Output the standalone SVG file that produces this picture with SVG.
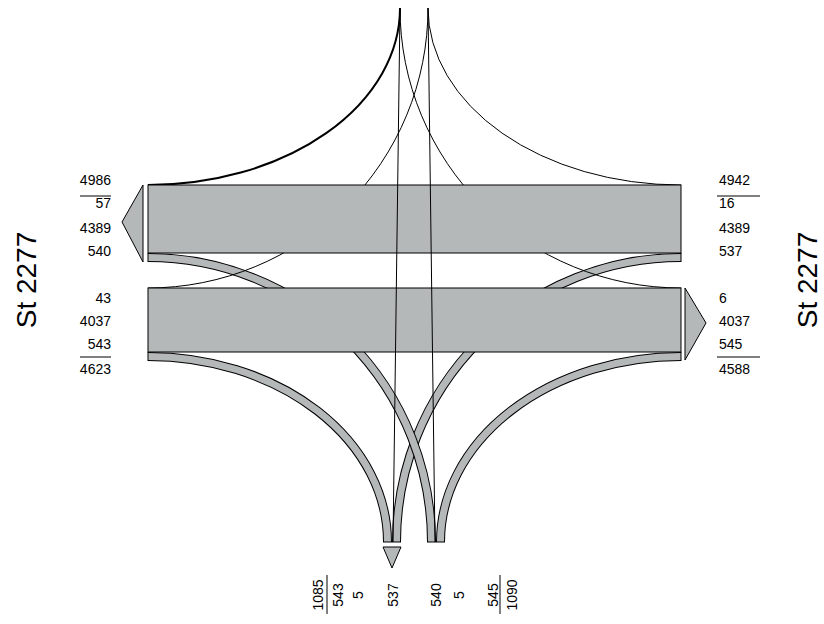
<svg xmlns="http://www.w3.org/2000/svg" width="824" height="624" viewBox="0 0 824 624">
<style>
.bg{fill:#ffffff}
.band{fill:#b4b8b8;stroke:#000;stroke-width:1}
.arrow{fill:#b4b8b8;stroke:#000;stroke-width:1}
.flowo{fill:none;stroke:#000;stroke-width:9}
.flowi{fill:none;stroke:#b4b8b8;stroke-width:7}
.thin{fill:none;stroke:#000;stroke-width:1}
.thick{fill:none;stroke:#000;stroke-width:2}
.edge{stroke:#000;stroke-width:1;fill:none}
.num{font-family:"Liberation Sans",Arial,sans-serif;font-size:14px;fill:#000}
.r{text-anchor:end}
.m{text-anchor:middle}
.big{font-family:"Liberation Sans",Arial,sans-serif;font-size:28px;fill:#000;text-anchor:middle}
</style>
<rect class="bg" x="0" y="0" width="824" height="624"/>
<g id="connectors">
  <g id="turns">
    <path class="flowo" d="M148,356.5 A239.5,185.5 0 0 1 387.5,542"/>
    <path class="flowi" d="M148,356.5 A239.5,185.5 0 0 1 387.5,542"/>
    <path class="flowo" d="M681,356.5 A240.5,185.5 0 0 0 440.5,542"/>
    <path class="flowi" d="M681,356.5 A240.5,185.5 0 0 0 440.5,542"/>
    <path class="flowo" d="M681,257.5 A284.5,284.5 0 0 0 396.5,542"/>
    <path class="flowi" d="M681,257.5 A284.5,284.5 0 0 0 396.5,542"/>
    <path class="flowo" d="M148,257.5 A283.5,284.5 0 0 1 431.5,542"/>
    <path class="flowi" d="M148,257.5 A283.5,284.5 0 0 1 431.5,542"/>
    <path class="edge" d="M148,253V262 M681,253V262 M148,352V361 M681,352V361 M383,542H401 M427,542H445"/>
  </g>
  <g id="thin-flows">
    <path class="thick" d="M400,8 A252,177 0 0 1 148,185"/>
    <path class="thin" d="M400,8 A281,280 0 0 0 681,288"/>
    <path class="thin" d="M428,8 A280,280 0 0 1 148,288"/>
    <path class="thin" d="M428,8 A253,177 0 0 0 681,185"/>
  </g>
</g>
<g id="band-upper">
  <rect class="band" x="148" y="185" width="533" height="68"/>
  <polygon class="arrow" points="143,185 143,262 122,222"/>
</g>
<g id="band-lower">
  <rect class="band" x="148" y="288" width="533" height="64"/>
  <polygon class="arrow" points="685,288 685,360 706,323"/>
</g>
<g id="straight-flows">
  <path class="thin" d="M400,8 L393,542"/>
  <path class="thin" d="M428,8 L435,542"/>
</g>
<g id="arm-south">
  <polygon class="arrow" points="383,547 401,547 392,568"/>
  <path class="edge" d="M327,575V614 M500,575V614"/>
  <text class="num m" transform="translate(323,595) rotate(-90)">1085</text>
  <text class="num m" transform="translate(343,595) rotate(-90)">543</text>
  <text class="num m" transform="translate(363,595) rotate(-90)">5</text>
  <text class="num m" transform="translate(398,595) rotate(-90)">537</text>
  <text class="num m" transform="translate(441,595) rotate(-90)">540</text>
  <text class="num m" transform="translate(464,595) rotate(-90)">5</text>
  <text class="num m" transform="translate(498,595) rotate(-90)">545</text>
  <text class="num m" transform="translate(517,595) rotate(-90)">1090</text>
</g>
<g id="arm-west">
  <text class="big" transform="translate(36,280) rotate(-90)">St 2277</text>
  <text class="num r" x="111" y="185">4986</text>
  <path class="edge" d="M80,196H111"/>
  <text class="num r" x="111" y="208">57</text>
  <text class="num r" x="111" y="233">4389</text>
  <text class="num r" x="111" y="256">540</text>
  <text class="num r" x="111" y="303">43</text>
  <text class="num r" x="111" y="326">4037</text>
  <text class="num r" x="111" y="349">543</text>
  <path class="edge" d="M80,357H111"/>
  <text class="num r" x="111" y="374">4623</text>
</g>
<g id="arm-east">
  <text class="big" transform="translate(817,280) rotate(-90)">St 2277</text>
  <text class="num" x="719" y="185">4942</text>
  <path class="edge" d="M717,196H760"/>
  <text class="num" x="719" y="208">16</text>
  <text class="num" x="719" y="233">4389</text>
  <text class="num" x="719" y="256">537</text>
  <text class="num" x="719" y="303">6</text>
  <text class="num" x="719" y="326">4037</text>
  <text class="num" x="719" y="349">545</text>
  <path class="edge" d="M717,357H760"/>
  <text class="num" x="719" y="374">4588</text>
</g>
</svg>
